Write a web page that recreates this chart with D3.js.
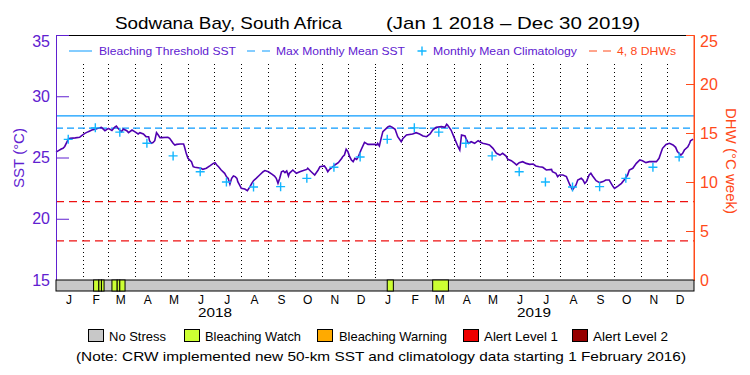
<!DOCTYPE html>
<html>
<head>
<meta charset="utf-8">
<script src="https://cdn.jsdelivr.net/npm/d3@7"></script>
<style>
  body { margin: 0; background: #fff; }
  svg { display: block; font-family: "Liberation Sans", Arial, sans-serif; }
</style>
</head>
<body>
<svg id="chart" width="750" height="375"></svg>
<script>
// daily SST (day 0 = Jan 1 2018)
var sstDays = [0,1,6,8,10,14,16,22,27,29,33,37,41,45,48,52,56,60,64,67,69,71,73,75,77,81,83,87,90,94,96,100,103,106,107,109,111,113,115,117,119,121,128,130,132,134,136,138,142,146,147,149,151,155,157,159,166,168,172,176,180,182,184,186,189,193,195,197,199,201,203,205,207,208,210,212,216,219,222,224,226,229,233,237,239,243,247,250,252,254,256,258,260,262,264,266,267,271,273,275,279,283,287,288,292,296,300,302,307,309,311,313,317,319,323,327,328,330,332,334,336,338,340,342,344,346,349,353,357,361,365,367,368,370,372,374,378,380,382,385,388,391,395,397,401,408,412,416,420,424,428,431,435,441,445,447,448,452,456,460,462,464,468,469,472,475,479,483,485,488,492,496,500,504,508,511,515,517,521,525,527,530,534,538,542,546,549,553,557,561,567,568,572,574,576,580,584,588,591,593,595,597,601,603,605,607,610,612,614,618,622,626,629,633,637,639,643,647,650,654,656,660,664,668,671,675,679,683,687,690,692,694,698,702,706,709,711,715,717,719,723,725,726,729];
var sstValues = [25.45,25.48,25.69,25.75,25.9,26.48,26.56,26.6,26.65,26.76,26.97,27.11,27.24,27.3,27.38,27.46,27.19,27.38,27.2,27.46,27.57,27.38,27.24,27.11,27.33,27.19,27.03,27.24,27.11,26.92,27.03,26.92,26.7,26.7,26.37,26.16,26.22,26.37,27.03,26.84,26.62,26.62,26.65,26.56,26.37,26.16,26.02,26.07,26.1,26.1,25.88,25.34,24.93,24.66,24.25,24.2,24.12,24.03,24.12,24.31,24.52,24.58,24.39,24.25,23.98,23.71,23.44,23.3,22.84,23.3,23.49,23.44,23.3,23.03,22.76,22.48,22.43,22.29,22.62,22.89,23.11,23.3,23.57,23.84,23.93,23.84,23.65,23.49,23.3,22.89,23.3,23.84,23.9,23.76,23.9,23.49,23.71,23.98,23.84,23.71,23.84,23.93,24.03,24.12,23.84,23.57,23.98,24.25,24.31,24.12,23.84,24.03,24.25,24.39,24.58,24.93,25.07,25.2,25.67,25.48,25.07,24.8,24.66,24.93,24.85,25.07,25.61,26.24,26.07,26.07,26.07,26.02,26.16,25.94,26.56,27.11,27.38,27.52,27.57,27.46,27.3,26.7,26.29,26.56,26.84,26.92,27.03,26.92,26.76,26.7,26.92,27.24,27.46,27.52,27.46,27.71,27.65,27.24,26.56,25.88,25.61,26.84,26.76,26.56,26.16,26.29,26.16,26.37,26.29,26.16,26.1,26.02,25.75,25.34,25.2,25.34,25.12,24.85,24.74,24.52,24.39,24.58,24.66,24.52,24.44,24.47,24.31,24.25,24.2,23.98,24.03,23.84,23.71,23.44,23.57,23.57,23.44,22.76,22.35,22.56,22.76,23.16,23.3,23.16,22.89,23.03,23.57,23.71,23.49,23.11,22.95,23.03,23.16,23.16,22.67,22.48,22.67,22.89,23.16,23.57,23.98,24.12,24.52,24.8,24.74,24.58,24.66,24.66,24.66,24.93,25.34,25.75,26.07,26.16,26.02,25.83,25.48,25.2,25.34,25.61,25.88,26.16,26.37,26.5];

// monthly mean climatology (same for each year)
var climValues = [26.48, 27.42, 27.07, 26.16, 25.13, 23.84, 23.0, 22.59, 22.62, 23.3, 24.2, 25.04];
var mmmSST = 27.4;
var thresholdSST = 28.4;
var dhwLevels = [4, 8];
// bleaching watch weeks, day offsets [start, end]
var watchPeriods = [[43,48],[49,51],[52,54],[64,69],[70,72],[73,78],[379,385],[431,448]];

var years = [2018, 2019];
var sstTicks = [15, 20, 25, 30, 35];
var dhwTicks = [0, 5, 10, 15, 20, 25];
var legendItems = ["No Stress", "Bleaching Watch", "Bleaching Warning", "Alert Level 1", "Alert Level 2"];
var legendColors = ["#c8c8c8", "#ccff33", "#ffaa00", "#ee0000", "#960000"];

var PURPLE = "#6020d0", LINE = "#5000b0", BLUE = "#0a9bff", CROSS = "#12b6ff", ORANGE = "#ff4a1a";
var L = 56, R = 694, T = 35, B = 280;

var svg = d3.select("#chart");
var start = new Date(2018, 0, 1);
function dayDate(d) { return d3.timeDay.offset(start, d); }

var x = d3.scaleTime().domain([start, new Date(2020, 0, 1)]).range([L, R]);
var ySST = d3.scaleLinear().domain([15, 35]).range([B, T]);
var yDHW = d3.scaleLinear().domain([0, 25]).range([B, T]);

// stretch text to a measured width
function fit(t, w) {
    return t.attr("textLength", w).attr("lengthAdjust", "spacingAndGlyphs");
}

// title
fit(svg.append("text").attr("x", 115).attr("y", 29).attr("font-size", 17).text("Sodwana Bay, South Africa"), 227);
fit(svg.append("text").attr("x", 386).attr("y", 29).attr("font-size", 17).text("(Jan 1 2018 \u2013 Dec 30 2019)"), 254);

// month boundaries
var months = d3.timeMonth.range(start, new Date(2020, 0, 1));
svg.append("g").selectAll("line").data(months.slice(1)).join("line")
    .attr("x1", d => Math.round(x(d)) + 0.5).attr("x2", d => Math.round(x(d)) + 0.5)
    .attr("y1", 64).attr("y2", B)
    .attr("stroke", "#000").attr("stroke-width", 1)
    .attr("stroke-dasharray", d => d.getMonth() == 0 ? "1,2" : "1,3");

// threshold and MMM lines
svg.append("line").attr("x1", L).attr("x2", R).attr("y1", ySST(thresholdSST)).attr("y2", ySST(thresholdSST))
    .attr("stroke", BLUE).attr("stroke-width", 1.2);
svg.append("line").attr("x1", L).attr("x2", R).attr("y1", ySST(mmmSST)).attr("y2", ySST(mmmSST))
    .attr("stroke", BLUE).attr("stroke-width", 1.2).attr("stroke-dasharray", "7,4");

// 4 and 8 DHW lines
svg.append("g").selectAll("line").data(dhwLevels).join("line")
    .attr("x1", L).attr("x2", R).attr("y1", d => yDHW(d)).attr("y2", d => yDHW(d))
    .attr("stroke", "#ee1111").attr("stroke-width", 1.2).attr("stroke-dasharray", "8,5");

// SST line
var line = d3.line().x((d, i) => x(dayDate(sstDays[i]))).y(d => ySST(d));
svg.append("path").datum(sstValues).attr("d", line)
    .attr("fill", "none").attr("stroke", LINE).attr("stroke-width", 1.6);

// climatology crosses
var clim = [];
years.forEach(function (yr) {
    climValues.forEach(function (v, m) { clim.push({ date: new Date(yr, m, 15), v: v }); });
});
svg.append("g").selectAll("path").data(clim).join("path")
    .attr("transform", d => "translate(" + x(d.date) + "," + ySST(d.v) + ")")
    .attr("d", "M-4.5,0H4.5M0,-4.5V4.5")
    .attr("stroke", CROSS).attr("stroke-width", 1.4);

// frame top
svg.append("line").attr("x1", L).attr("x2", R).attr("y1", T + 0.5).attr("y2", T + 0.5).attr("stroke", "#000");

// left SST axis, ticks pointing inward
var gl = svg.append("g").attr("transform", "translate(" + L + ",0)");
gl.call(d3.axisLeft(ySST).tickValues(d3.range(15, 36)).tickSize(-5).tickFormat(""));
gl.call(d3.axisLeft(ySST).tickValues(sstTicks).tickSize(-13).tickPadding(6).tickFormat(d3.format("d")));
gl.selectAll("path, line").attr("stroke", PURPLE);
gl.selectAll("text").attr("fill", PURPLE).attr("font-size", 16).attr("font-family", null);
gl.selectAll(".tick").filter(d => d == 35).select("text").attr("dy", "0.72em");

// right DHW axis
var gr = svg.append("g").attr("transform", "translate(" + R + ",0)");
gr.call(d3.axisRight(yDHW).tickValues(d3.range(0, 26)).tickSize(-6).tickFormat(""));
gr.call(d3.axisRight(yDHW).tickValues(dhwTicks).tickSize(-8).tickPadding(6).tickFormat(d3.format("d")));
gr.selectAll("path, line").attr("stroke", ORANGE);
gr.selectAll("text").attr("fill", ORANGE).attr("font-size", 16).attr("font-family", null);
gr.selectAll(".tick").filter(d => d == 25).select("text").attr("dy", "0.72em");

// axis titles
svg.append("text").attr("transform", "translate(24,158) rotate(-90)").attr("text-anchor", "middle")
    .attr("font-size", 15).attr("fill", PURPLE).text("SST (\u00B0C)");
svg.append("text").attr("transform", "translate(726,161) rotate(90)").attr("text-anchor", "middle")
    .attr("font-size", 15).attr("fill", ORANGE).text("DHW (\u00B0C week)");

// alert strip
svg.append("rect").attr("x", L).attr("y", B).attr("width", R - L).attr("height", 11)
    .attr("fill", "#c8c8c8").attr("stroke", "#000");
svg.append("g").selectAll("rect").data(watchPeriods).join("rect")
    .attr("x", d => x(dayDate(d[0]))).attr("y", B)
    .attr("width", d => x(dayDate(d[1] + 1)) - x(dayDate(d[0]))).attr("height", 11)
    .attr("fill", legendColors[1]).attr("stroke", "#000");
svg.append("line").attr("x1", R).attr("x2", R).attr("y1", T).attr("y2", B).attr("stroke", ORANGE);

// month letters and years
svg.append("g").selectAll("text").data(months).join("text")
    .attr("x", d => x(d3.timeDay.offset(d, 15)))
    .attr("y", 304).attr("text-anchor", "middle").attr("font-size", 12)
    .text(d => d3.timeFormat("%B")(d)[0]);
years.forEach(function (yr) {
    fit(svg.append("text").attr("x", x(new Date(yr, 6, 2)) - 17).attr("y", 317).attr("font-size", 12).text(yr), 34);
});

// legend inside plot
var lg = svg.append("g").attr("font-size", 11.5);
lg.append("line").attr("x1", 69).attr("x2", 92).attr("y1", 51).attr("y2", 51).attr("stroke", BLUE);
fit(lg.append("text").attr("x", 99).attr("y", 55).attr("fill", PURPLE).text("Bleaching Threshold SST"), 137);
lg.append("line").attr("x1", 247).attr("x2", 270).attr("y1", 51).attr("y2", 51).attr("stroke", BLUE).attr("stroke-dasharray", "8,7");
fit(lg.append("text").attr("x", 276).attr("y", 55).attr("fill", PURPLE).text("Max Monthly Mean SST"), 129);
lg.append("path").attr("d", "M417.5,51H426.5M422,46.5V55.5").attr("stroke", CROSS).attr("stroke-width", 1.4);
fit(lg.append("text").attr("x", 433).attr("y", 55).attr("fill", PURPLE).text("Monthly Mean Climatology"), 144);
lg.append("line").attr("x1", 589).attr("x2", 611).attr("y1", 51).attr("y2", 51).attr("stroke", ORANGE).attr("stroke-dasharray", "8,6");
fit(lg.append("text").attr("x", 617).attr("y", 55).attr("fill", ORANGE).text("4, 8 DHWs"), 59);

// alert legend
var boxX = [88, 184, 317, 463, 572], textX = [109, 205, 339, 484, 593], textW = [57, 96, 108, 74, 75];
legendItems.forEach(function (name, i) {
    svg.append("rect").attr("x", boxX[i] + 0.5).attr("y", 329.5).attr("width", 15).attr("height", 12)
        .attr("fill", legendColors[i]).attr("stroke", "#000");
    fit(svg.append("text").attr("x", textX[i]).attr("y", 341).attr("font-size", 13).text(name), textW[i]);
});
fit(svg.append("text").attr("x", 76).attr("y", 361).attr("font-size", 13)
    .text("(Note: CRW implemented new 50-km SST and climatology data starting 1 February 2016)"), 610);
</script>
</body>
</html>
